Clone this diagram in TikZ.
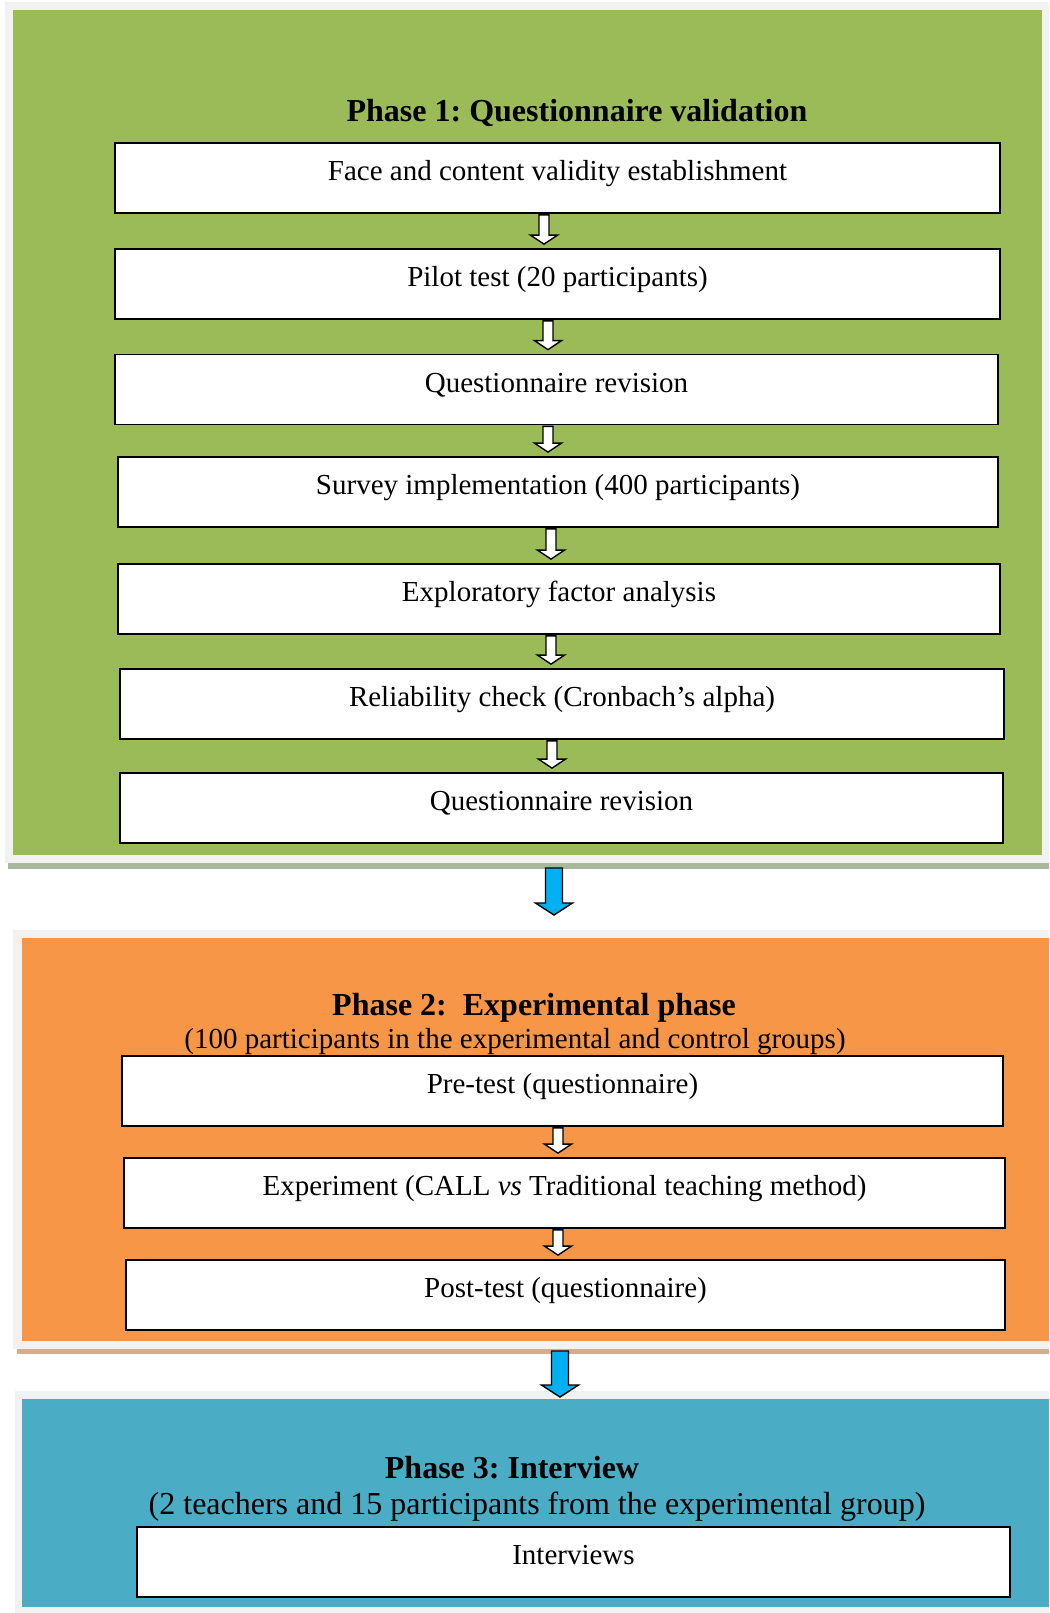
\documentclass[tikz,border=0pt]{standalone}
\usepackage{fontspec}
\setmainfont{Liberation Serif}
\usetikzlibrary{calc}
\frenchspacing

\definecolor{phaseGreen}{HTML}{9BBB59}
\definecolor{phaseOrange}{HTML}{F79646}
\definecolor{phaseTeal}{HTML}{4BACC6}
\definecolor{frameGray}{HTML}{F2F2F2}
\definecolor{shadowGreen}{HTML}{A9B79A}
\definecolor{shadowTan}{HTML}{D2AE8E}
\definecolor{linkBlue}{HTML}{00B0F0}

% white block arrow between two consecutive step boxes
\newcommand{\stepArrow}[3]{%
  \filldraw[steparrow] let \p1=(#2.south), \p2=(#3.north) in
    (#1pt-5pt,\y1-1pt) -- (#1pt+5pt,\y1-1pt) -- (#1pt+5pt,\y2+13pt)
    -- (#1pt+13.5pt,\y2+13pt) -- (#1pt,\y2+4pt) -- (#1pt-13.5pt,\y2+13pt)
    -- (#1pt-5pt,\y2+13pt) -- cycle;}

% blue block arrow from one phase panel to the next
\newcommand{\phaseArrow}[5]{%
  \filldraw[phasearrow] let \p1=(#2.south), \p2=(#3.north) in
    (#1pt-8.5pt,\y1#4) -- (#1pt+8.5pt,\y1#4) -- (#1pt+8.5pt,\y2#5+12pt)
    -- (#1pt+18.5pt,\y2#5+12pt) -- (#1pt,\y2#5) -- (#1pt-18.5pt,\y2#5+12pt)
    -- (#1pt-8.5pt,\y2#5+12pt) -- cycle;}

\begin{document}
\begin{tikzpicture}[x=1pt,y=-1pt,
  panel/.style={inner sep=0pt, outer sep=0pt, minimum width=#1},
  stepbox/.style={draw=black, fill=white, line width=1.8pt, inner sep=0pt,
    minimum height=70pt, minimum width=#1,
    text height=20pt, text depth=14.8pt,
    font=\fontsize{29}{34}\selectfont},
  title/.style={anchor=base, inner sep=0pt, font=\fontsize{32}{38}\selectfont\bfseries},
  subtitle/.style={anchor=base, inner sep=0pt, font=\fontsize{29}{34}\selectfont},
  steparrow/.style={draw=black, fill=white, line width=1.4pt, line join=miter},
  phasearrow/.style={draw=black, fill=linkBlue, line width=1.4pt, line join=miter}]

\useasboundingbox (0,0) rectangle (1049,1613);
\fill[white] (0,0) rectangle (1049,1613);

% ---- phase panels -------------------------------------------------------
\node[panel=1044pt, fill=frameGray, minimum height=861pt] (frame1) at (527,432.5) {};
\node[panel=1029pt, fill=phaseGreen, minimum height=845pt] (panel1) at (527.5,432.5) {};
\node[panel=1041pt, fill=shadowGreen, minimum height=6pt] (shadow1) at (528.5,866) {};

\node[panel=1036pt, fill=frameGray, minimum height=419pt] (frame2) at (531,1139.5) {};
\node[panel=1027pt, fill=phaseOrange, minimum height=403pt] (panel2) at (535.5,1139.5) {};
\node[panel=1032pt, fill=shadowTan, minimum height=5pt] (shadow2) at (533,1351.5) {};

\node[panel=1034pt, fill=frameGray, minimum height=222pt] (frame3) at (532,1502) {};
\node[panel=1027pt, fill=phaseTeal, minimum height=208pt] (panel3) at (535.5,1503) {};

% ---- phase 1 --------------------------------------------------------------
\node[title] (t1) at (577,121.5) {Phase 1: Questionnaire validation};
\node[stepbox=885pt] (s1) at (557.5,178)   {Face and content validity establishment};
\node[stepbox=885pt] (s2) at (557.5,284)   {Pilot test (20 participants)};
\node[stepbox=883pt] (s3) at (556.5,389.5) {Questionnaire revision};
\node[stepbox=880pt] (s4) at (558,492)     {Survey implementation (400 participants)};
\node[stepbox=882pt] (s5) at (559,599)     {Exploratory factor analysis};
\node[stepbox=884pt] (s6) at (562,704)     {Reliability check (Cronbach’s alpha)};
\node[stepbox=883pt] (s7) at (561.5,808)   {Questionnaire revision};

\stepArrow{544}{s1}{s2}
\stepArrow{548}{s2}{s3}
\stepArrow{548}{s3}{s4}
\stepArrow{551}{s4}{s5}
\stepArrow{551}{s5}{s6}
\stepArrow{552}{s6}{s7}

% ---- phase 2 --------------------------------------------------------------
\node[title] (t2) at (534,1015.5) {Phase 2:\ \ Experimental phase};
\node[subtitle] (u2) at (515,1048.6) {(100 participants in the experimental and control groups)};
\node[stepbox=881pt] (e1) at (562.5,1091) {Pre-test (questionnaire)};
\node[stepbox=881pt] (e2) at (564.5,1193) {Experiment (CALL \textit{vs} Traditional teaching method)};
\node[stepbox=879pt] (e3) at (565.5,1295) {Post-test (questionnaire)};

\stepArrow{558}{e1}{e2}
\stepArrow{558}{e2}{e3}

% ---- phase 3 --------------------------------------------------------------
\node[title] (t3) at (512,1478) {Phase 3: Interview};
\node[subtitle, font=\fontsize{32}{38}\selectfont] (u3) at (537,1514.5) {(2 teachers and 15 participants from the experimental group)};
\node[stepbox=873pt] (i1) at (573.5,1562) {Interviews};

% ---- links between phases --------------------------------------------------
\phaseArrow{554}{shadow1}{frame2}{+1pt}{+15pt}
\phaseArrow{560}{shadow2}{frame3}{+3pt}{-6pt}

\end{tikzpicture}
\end{document}
